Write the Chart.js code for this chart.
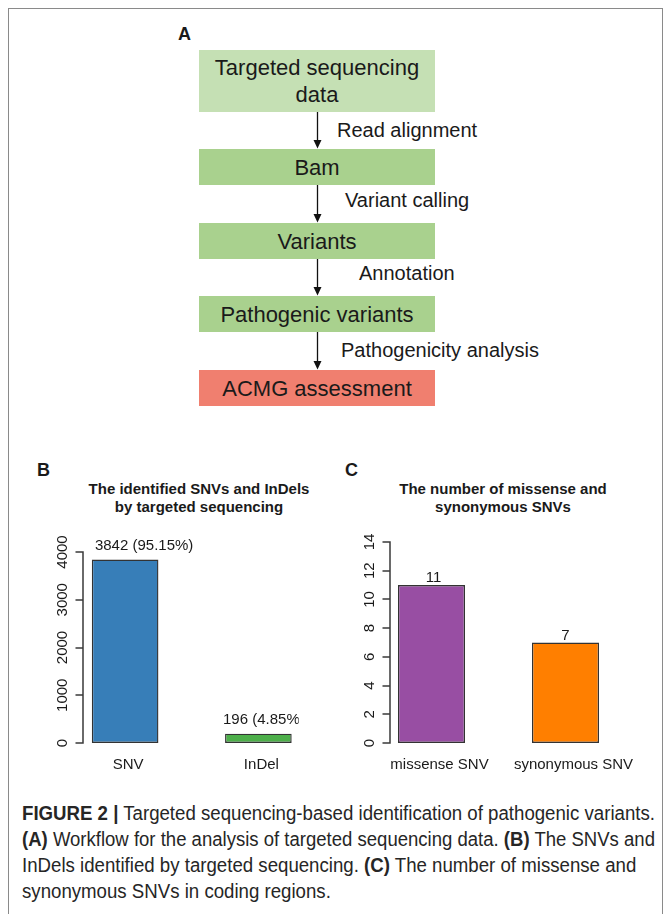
<!DOCTYPE html>
<html>
<head>
<meta charset="utf-8">
<script src="https://cdn.jsdelivr.net/npm/chart.js@4.4.1/dist/chart.umd.min.js"></script>
<style>
  html, body { margin: 0; padding: 0; background: #fff; }
  #fig { position: relative; width: 670px; height: 914px; overflow: hidden;
         font-family: Arial, "Liberation Sans", sans-serif; color: #1a1a1a; }
  #frame { position: absolute; left: 8px; top: 8px; width: 655px; height: 1000px;
           border: 1.5px solid #8a8a8a; box-sizing: border-box; }
  .letter { position: absolute; font-weight: bold; font-size: 18px; line-height: 18px; }
  .box { position: absolute; left: 199px; width: 236px; display: flex; align-items: center;
         justify-content: center; text-align: center; font-size: 22px; line-height: 27px; }
  .step { position: absolute; font-size: 20px; line-height: 20px; white-space: nowrap; }
  .ptitle { position: absolute; width: 300px; text-align: center; font-weight: bold;
            font-size: 15px; line-height: 18px; }
  canvas { position: absolute; }
  .cap { position: absolute; left: 22px; font-family: "Liberation Sans Narrow", "Arial Narrow", Arial, sans-serif;
         font-size: 20px; line-height: 26px; white-space: nowrap; color: #262626; transform-origin: 0 50%; }
  .cap b { font-weight: bold; }
</style>
</head>
<body>
<div id="fig">
  <div id="frame"></div>
  <div class="letter" style="left:178px;top:25px">A</div>
  <div id="flow"></div>
  <svg id="arrows" width="670" height="420" style="position:absolute;left:0;top:0"></svg>

  <div class="letter" style="left:37px;top:461px">B</div>
  <div class="letter" style="left:345px;top:461px">C</div>
  <div class="ptitle" style="left:49px;top:480px">The identified SNVs and InDels<br>by targeted sequencing</div>
  <div class="ptitle" style="left:353px;top:480px">The number of missense and<br>synonymous SNVs</div>

  <canvas id="chartB" width="320" height="260" style="left:20px;top:530px"></canvas>
  <canvas id="chartC" width="310" height="260" style="left:340px;top:530px"></canvas>

  <div class="cap" id="cap1" style="top:800px"><b>FIGURE 2 |</b> Targeted sequencing-based identification of pathogenic variants.</div>
  <div class="cap" id="cap2" style="top:826px"><b>(A)</b> Workflow for the analysis of targeted sequencing data. <b>(B)</b> The SNVs and</div>
  <div class="cap" id="cap3" style="top:852px">InDels identified by targeted sequencing. <b>(C)</b> The number of missense and</div>
  <div class="cap" id="cap4" style="top:878px">synonymous SNVs in coding regions.</div>
</div>

<script>
// ---- data ----
var FLOW_STEPS = ["Targeted sequencing<br>data", "Bam", "Variants", "Pathogenic variants", "ACMG assessment"];
var FLOW_LINKS = ["Read alignment", "Variant calling", "Annotation", "Pathogenicity analysis"];

var B_CATEGORIES = ["SNV", "InDel"];
var B_VALUES = [3842, 196];
var B_TICKS = [0, 1000, 2000, 3000, 4000];

var C_CATEGORIES = ["missense SNV", "synonymous SNV"];
var C_VALUES = [11, 7];
var C_TICKS = [0, 2, 4, 6, 8, 10, 12, 14];

// ---- panel A: workflow ----
(function () {
  var tops = [50, 149, 223, 296, 370];
  var heights = [62, 36, 36, 36, 36];
  var fills = ["#c5e0b4", "#a9d18e", "#a9d18e", "#a9d18e", "#f07f6f"];
  var linkPos = [[337, 120], [345, 190], [359, 263], [341, 340]];
  var flow = document.getElementById("flow");
  var svg = document.getElementById("arrows");
  var ax = 317.5, html = "", s = "";
  FLOW_STEPS.forEach(function (txt, i) {
    html += '<div class="box" style="top:' + tops[i] + 'px;height:' + heights[i] +
      'px;background:' + fills[i] + '">' + '<span>' + txt + '</span></div>';
  });
  FLOW_LINKS.forEach(function (txt, i) {
    var y1 = tops[i] + heights[i], y2 = tops[i + 1];
    html += '<div class="step" style="left:' + linkPos[i][0] + 'px;top:' + linkPos[i][1] + 'px">' + txt + '</div>';
    s += '<line x1="' + ax + '" y1="' + y1 + '" x2="' + ax + '" y2="' + (y2 - 7) + '" stroke="#111" stroke-width="1.3"/>';
    s += '<polygon points="' + (ax - 4) + ',' + (y2 - 9) + ' ' + (ax + 4) + ',' + (y2 - 9) + ' ' + ax + ',' + (y2 - 0.5) + '" fill="#111"/>';
  });
  flow.innerHTML = html;
  svg.innerHTML = s;
})();

// ---- caption: squeeze to the condensed width of the original ----
(function () {
  var full = 633;
  var w1 = document.getElementById("cap1").scrollWidth;
  var k = full / w1;
  ["cap1", "cap3", "cap4"].forEach(function (id) {
    document.getElementById(id).style.transform = "scaleX(" + k + ")";
  });
  var c2 = document.getElementById("cap2");
  c2.style.transform = "scaleX(" + (full / c2.scrollWidth) + ")";
})();

// ---- R-like axis + value labels ----
var rAxis = {
  id: "rAxis",
  afterDraw: function (chart, args, o) {
    var ctx = chart.ctx, y = chart.scales.y;
    var bars = chart.getDatasetMeta(0).data;
    var x0 = Math.round(bars[0].x - bars[0].width / 2 - o.gap);
    var ticks = y.ticks;
    var yTop = Math.round(y.getPixelForValue(ticks[ticks.length - 1].value));
    var yBot = Math.round(y.getPixelForValue(ticks[0].value));
    ctx.save();
    ctx.strokeStyle = "#3a3a3a";
    ctx.lineWidth = 1.5;
    ctx.beginPath();
    ctx.moveTo(x0, yTop);
    ctx.lineTo(x0, yBot);
    ticks.forEach(function (t) {
      var py = Math.round(y.getPixelForValue(t.value));
      ctx.moveTo(x0 - 7.5, py);
      ctx.lineTo(x0 + 0.75, py);
    });
    ctx.stroke();
    ctx.fillStyle = "#1a1a1a";
    ctx.font = "15px Arial, 'Liberation Sans', sans-serif";
    ctx.textAlign = "center";
    ctx.textBaseline = "alphabetic";
    ticks.forEach(function (t) {
      ctx.save();
      ctx.translate(x0 - 16, y.getPixelForValue(t.value));
      ctx.rotate(-Math.PI / 2);
      ctx.fillText(String(t.value), 0, 0);
      ctx.restore();
    });
    ctx.restore();
  },
  afterDatasetsDraw: function (chart, args, o) {
    var ctx = chart.ctx, meta = chart.getDatasetMeta(0);
    var vals = chart.data.datasets[0].data;
    ctx.save();
    if (o.clipPad != null) {
      var last = meta.data[meta.data.length - 1];
      ctx.beginPath();
      ctx.rect(0, 0, last.x + last.width / 2 + o.clipPad, chart.height);
      ctx.clip();
    }
    ctx.fillStyle = "#1a1a1a";
    ctx.font = "15px Arial, 'Liberation Sans', sans-serif";
    ctx.textAlign = "center";
    ctx.textBaseline = "alphabetic";
    meta.data.forEach(function (bar, i) {
      ctx.fillText(o.text(vals[i], vals), bar.x + o.dx[i], bar.y - o.lift);
    });
    ctx.restore();
  }
};

function barChart(id, cats, vals, colors, ticks, pad, labelShift, labelOpts) {
  return new Chart(document.getElementById(id), {
    type: "bar",
    data: {
      labels: cats,
      datasets: [{
        data: vals,
        backgroundColor: colors,
        borderColor: "#333",
        borderWidth: 1.4,
        borderSkipped: false,
        barPercentage: 1,
        categoryPercentage: 0.5
      }]
    },
    options: {
      responsive: false,
      animation: false,
      devicePixelRatio: 1,
      layout: { padding: pad },
      plugins: { legend: { display: false }, tooltip: { enabled: false }, rAxis: labelOpts },
      scales: {
        x: {
          grid: { display: false, drawTicks: false },
          border: { display: false },
          ticks: { color: "#1a1a1a", padding: 13, labelOffset: labelShift,
                   font: { family: "Arial, 'Liberation Sans', sans-serif", size: 15 } },
          afterFit: function (s) { s.height = 30; }
        },
        y: {
          display: false,
          min: ticks[0],
          max: ticks[ticks.length - 1],
          afterBuildTicks: function (s) { s.ticks = ticks.map(function (v) { return { value: v }; }); }
        }
      }
    },
    plugins: [rAxis]
  });
}

var totalB = B_VALUES.reduce(function (a, b) { return a + b; }, 0);
barChart("chartB", B_CATEGORIES, B_VALUES, ["#377eb8", "#4daf4a"], B_TICKS,
  { left: 38.5, right: 15, top: 22, bottom: 17 }, 3,
  { gap: 9, lift: 9.5, dx: [19, 5.5], clipPad: 7,
    text: function (v) { return v + " (" + (v / totalB * 100).toFixed(2) + "%)"; } });

barChart("chartC", C_CATEGORIES, C_VALUES, ["#984ea3", "#ff7f00"], C_TICKS,
  { left: 24.5, right: 17.5, top: 12, bottom: 17 }, 8,
  { gap: 8, lift: 3, dx: [2, 0], clipPad: null,
    text: function (v) { return String(v); } });
</script>
</body>
</html>
